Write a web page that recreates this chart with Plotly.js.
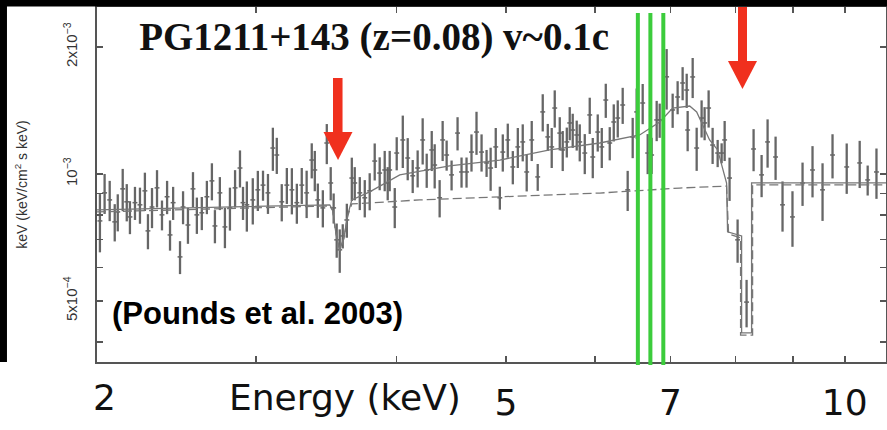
<!DOCTYPE html>
<html><head><meta charset="utf-8">
<script src="https://cdn.plot.ly/plotly-3.0.1.min.js"></script>
<style>html,body{margin:0;padding:0;background:#fff;}#chart{width:887px;height:430px;}</style>
</head><body><div id="chart"></div>
<script>
// Observed spectrum bins: energy (keV), flux (units of 1e-3 keV^2 ph/cm^2/s/keV), 1-sigma error
const energy = [2.180,2.201,2.224,2.247,2.261,2.284,2.303,2.318,2.342,2.366,2.390,2.405,2.425,2.450,2.475,2.501,2.516,2.532,2.568,2.584,2.610,2.637,2.658,2.685,2.713,2.741,2.758,2.786,2.815,2.844,2.874,2.903,2.921,
2.944,2.980,3.011,3.043,3.074,3.105,3.130,3.162,3.195,3.228,3.261,3.294,3.327,3.362,3.383,3.404,3.439,3.467,3.495,3.516,3.538,3.560,3.582,3.612,3.649,3.671,3.709,3.747,3.785,3.824,3.863,3.903,3.927,
3.943,3.984,4.000,4.050,4.091,4.133,4.175,4.218,4.253,4.297,4.323,4.367,4.394,4.430,4.475,4.530,4.567,4.614,4.661,4.709,4.758,4.807,4.847,4.898,4.939,4.969,5.020,5.072,5.124,5.176,5.218,5.272,
5.337,5.392,5.448,5.492,5.526,5.583,5.617,5.664,5.698,5.733,5.780,5.816,5.876,5.936,5.973,6.034,6.084,6.134,6.184,6.235,6.286,6.350,6.415,6.481,6.534,6.615,6.683,6.737,6.807,6.849,6.947,7.033,7.105,
7.178,7.238,7.252,7.327,7.387,7.462,7.508,7.570,7.632,7.711,7.774,7.822,7.901,8.032,8.181,8.299,8.436,8.540,8.681,8.805,8.986,9.173,9.362,9.556,9.753,10.04,10.31,10.48,10.67];
const flux = [0.774,0.902,0.868,0.770,0.813,0.922,0.859,0.791,0.855,0.845,0.912,0.733,0.835,0.927,0.800,0.883,0.717,0.855,0.636,0.835,0.757,0.922,0.800,0.809,0.883,0.963,0.753,0.902,0.749,0.831,0.927,1.033,0.855,
0.845,0.868,0.917,0.941,0.902,1.152,1.109,0.859,0.941,0.917,0.855,0.941,0.902,1.079,1.022,0.868,0.831,1.184,0.952,0.831,0.698,0.661,0.713,0.778,0.978,0.952,0.902,0.878,0.912,1.073,1.005,1.022,0.952,
1.022,0.835,1.121,1.204,1.091,0.990,1.033,1.204,1.022,1.140,1.050,0.878,1.204,1.109,0.995,1.250,1.011,1.011,1.127,1.257,1.127,1.062,1.033,1.159,0.878,1.127,1.204,1.039,1.159,1.191,1.011,1.204,
0.984,1.403,1.224,1.159,1.433,1.250,1.140,1.191,1.321,1.271,1.237,1.191,1.121,1.380,1.097,1.257,1.159,1.497,1.184,1.328,1.357,1.457,0.917,1.224,1.403,1.473,1.121,1.109,1.343,1.343,1.699,1.418,1.522,
1.643,1.581,1.271,1.698,1.152,1.357,1.321,1.433,1.171,1.121,1.121,1.204,0.978,0.698,0.497,1.146,0.995,1.191,1.097,0.845,0.791,0.952,1.022,0.917,1.109,1.039,1.062,0.968,1.011];
const fluxErr = [0.122,0.098,0.095,0.078,0.082,0.106,0.087,0.071,0.077,0.083,0.095,0.070,0.091,0.094,0.065,0.080,0.059,0.077,0.057,0.075,0.074,0.088,0.079,0.073,0.080,0.097,0.068,0.081,0.082,0.097,0.094,0.104,0.077,
0.115,0.109,0.100,0.077,0.098,0.135,0.109,0.087,0.092,0.115,0.093,0.092,0.116,0.103,0.112,0.081,0.084,0.129,0.086,0.068,0.065,0.078,0.047,0.072,0.115,0.086,0.081,0.089,0.092,0.108,0.090,0.112,0.086,
0.112,0.091,0.101,0.171,0.125,0.089,0.104,0.151,0.095,0.124,0.126,0.089,0.131,0.091,0.081,0.113,0.083,0.083,0.114,0.147,0.114,0.078,0.121,0.126,0.055,0.114,0.112,0.094,0.126,0.120,0.102,0.131,
0.072,0.142,0.090,0.126,0.145,0.113,0.124,0.097,0.119,0.118,0.101,0.120,0.122,0.136,0.120,0.127,0.126,0.139,0.107,0.134,0.137,0.143,0.100,0.134,0.191,0.161,0.122,0.109,0.147,0.125,0.278,0.132,0.137,
0.148,0.147,0.139,0.185,0.135,0.137,0.119,0.145,0.115,0.083,0.061,0.131,0.115,0.082,0.064,0.131,0.114,0.156,0.129,0.115,0.119,0.112,0.142,0.143,0.133,0.142,0.136,0.079,0.138];

// Best-fit model (solid) and absorbed continuum (dashed)
const modelEnergy = [2.167,3.488,3.509,3.531,3.560,3.590,3.619,3.649,3.785,4.025,4.457,4.939,5.470,6.059,6.574,6.849,7.033,7.282,7.387,7.477,7.585,7.711,7.774,7.853,7.869,8.098,8.098,8.265,8.265,10.88];
const modelFlux = [0.822,0.845,0.822,0.729,0.661,0.706,0.800,0.868,0.907,0.995,1.045,1.079,1.140,1.184,1.237,1.328,1.433,1.449,1.403,1.307,1.204,1.140,1.050,0.952,0.729,0.713,0.420,0.420,0.952,0.952];
const contEnergy = [2.167,3.488,3.509,3.531,3.560,3.590,3.619,3.649,4.192,4.939,6.059,7.134,7.853,7.885,8.081,8.081,8.282,8.282,10.88];
const contFlux = [0.813,0.840,0.818,0.725,0.657,0.702,0.796,0.849,0.868,0.882,0.901,0.926,0.936,0.721,0.706,0.415,0.415,0.942,0.942];

// Fe K line energies marked in green
const feLineEnergies = [6.55, 6.72, 6.90];

const xTickVals = [5, 7, 10];
const xTickText = ['5', '7', '10'];
const xMinorVals = [3, 4, 6, 8, 9];
const yTickVals = [0.5, 1, 2];
const yTickText = ['5x10<sup>\u22124</sup>', '10<sup>\u22123</sup>', '2x10<sup>\u22123</sup>'];
const yMinorVals = [0.4, 0.6, 0.7, 0.8, 0.9];

const grey = '#666666';
const red = '#f0301e';

const traces = [
  {type:'scatter', mode:'markers', x: energy, y: flux, hoverinfo:'x+y',
   marker:{size:1, color:grey},
   error_y:{type:'data', array: fluxErr, color:grey, thickness:2.3, width:0},
   error_x:{type:'percent', value:0.5, color:grey, thickness:1.5, width:0}},
  {type:'scatter', mode:'lines', x: modelEnergy, y: modelFlux, line:{color:'#777', width:1.3}},
  {type:'scatter', mode:'lines', x: contEnergy, y: contFlux, line:{color:'#777', width:1.3, dash:'9px,4px'}}
];

const shapes = [];
feLineEnergies.forEach(e => shapes.push({type:'line', xref:'x', yref:'paper', x0:e, x1:e, y0:-0.0085, y1:0.983, line:{color:'#3ccc3c', width:4}}));
// red arrows
shapes.push({type:'rect', xref:'paper', yref:'paper', x0:0.2991, x1:0.3112, y0:0.6451, y1:0.8000, fillcolor:red, line:{width:0}});
shapes.push({type:'path', xref:'paper', yref:'paper', path:'M 0.2871 0.6479 L 0.3238 0.6479 L 0.3055 0.5690 Z', fillcolor:red, line:{width:0}});
shapes.push({type:'rect', xref:'paper', yref:'paper', x0:0.8124, x1:0.8238, y0:0.8451, y1:1.0, fillcolor:red, line:{width:0}});
shapes.push({type:'path', xref:'paper', yref:'paper', path:'M 0.7997 0.8479 L 0.8365 0.8479 L 0.8181 0.7690 Z', fillcolor:red, line:{width:0}});
// black frame strips of the photo
shapes.push({type:'rect', xref:'paper', yref:'paper', x0:-0.13, x1:1.01, y0:1.0014, y1:1.03, fillcolor:'#000', line:{width:0}});
shapes.push({type:'rect', xref:'paper', yref:'paper', x0:-0.13, x1:-0.1141, y0:0, y1:1.03, fillcolor:'#000', line:{width:0}});

const axisCommon = {type:'log', tickmode:'array', ticks:'inside', ticklen:6, tickwidth:1.5, tickcolor:'#555',
  showline:true, linecolor:'#555', linewidth:2, mirror:'ticks', showgrid:false, zeroline:false};

const layout = {
  width:887, height:430,
  margin:{l:97, r:1, t:7, b:68, pad:0},
  paper_bgcolor:'#fff', plot_bgcolor:'#fff',
  showlegend:false,
  title:{text:'<b>PG1211+143 (z=0.08) v~0.1c</b>', font:{family:'Liberation Serif, Times New Roman, serif', size:39, color:'#111'},
         x:0.4217, xanchor:'center', xref:'container', y:0.916, yanchor:'middle', yref:'container'},
  xaxis:Object.assign({}, axisCommon, {range:[Math.log10(2.167), Math.log10(10.88)], tickvals:xTickVals, ticktext:xTickText,
         minor:{tickmode:'array', tickvals:xMinorVals, ticks:'inside', ticklen:6, tickwidth:1.5, tickcolor:'#555', showgrid:false},
         tickfont:{family:'DejaVu Sans', size:36, color:'#111'}, ticklabelstandoff:8}),
  yaxis:Object.assign({}, axisCommon, {range:[Math.log10(0.3584), Math.log10(2.487)], tickvals:yTickVals, ticktext:yTickText, tickangle:-90,
         minor:{tickmode:'array', tickvals:yMinorVals, ticks:'inside', ticklen:6, tickwidth:1.5, tickcolor:'#555', showgrid:false},
         tickfont:{family:'Liberation Sans', size:15, color:'#333'}, ticklabelstandoff:12,
         title:{text:'keV (keV/cm<sup>2</sup> s keV)', font:{family:'Liberation Sans', size:14, color:'#333'}, standoff:30}}),
  shapes: shapes,
  annotations:[
    {xref:'paper', yref:'paper', x:0.0101, y:-0.101, text:'2', showarrow:false, xanchor:'center', yanchor:'middle', font:{family:'DejaVu Sans', size:36, color:'#111'}},
    {xref:'paper', yref:'paper', x:0.3143, y:-0.101, text:'Energy (keV)', showarrow:false, xanchor:'center', yanchor:'middle', font:{family:'DejaVu Sans', size:36, color:'#111'}},
    {xref:'paper', yref:'paper', x:0.204, y:0.138, text:'<b>(Pounds et al. 2003)</b>', showarrow:false, xanchor:'center', yanchor:'middle', font:{family:'Liberation Sans', size:31, color:'#000'}}
  ]
};

Plotly.newPlot('chart', traces, layout, {displayModeBar:false, staticPlot:true});
</script>
</body></html>
